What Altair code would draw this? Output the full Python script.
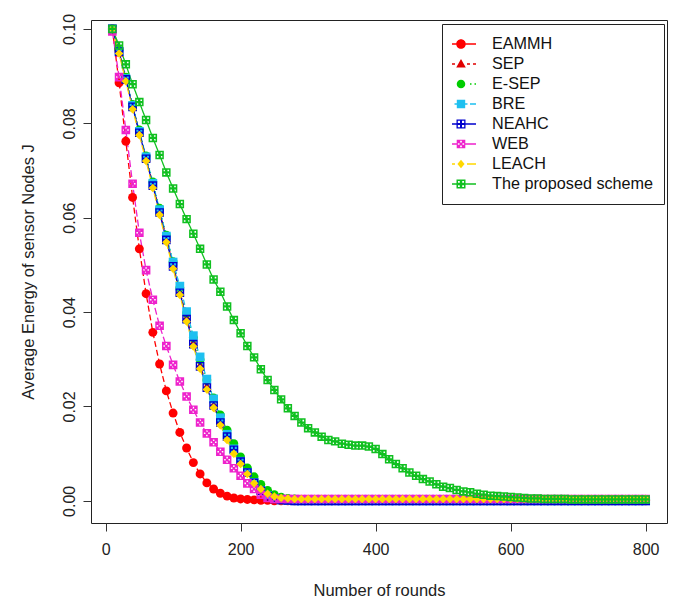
import altair as alt
import pandas as pd

FONT = "Liberation Sans"

ROUNDS = list(range(10, 801, 10))

SERIES = ["EAMMH", "SEP", "E-SEP", "BRE", "NEAHC", "WEB", "LEACH", "The proposed scheme"]
COLORS = ["#ff0000", "#e00000", "#00cd00", "#1ec0f0", "#0000cd", "#ee22cc", "#ffd700", "#10c020"]

EAMMH = [0.1000, 0.0886, 0.0762, 0.0643, 0.0534, 0.0439, 0.0357, 0.0290, 0.0233, 0.0186,
         0.0145, 0.0112, 0.0081, 0.0057, 0.0038, 0.0025, 0.0016, 0.0010, 0.0006, 0.0004,
         0.0003, 0.0002, 0.0001, 0.0001, 0.0, 0.0, 0.0, 0.0, 0.0, 0.0,
         0.0, 0.0, 0.0, 0.0, 0.0, 0.0, 0.0, 0.0, 0.0, 0.0,
         0.0, 0.0, 0.0, 0.0, 0.0, 0.0, 0.0, 0.0, 0.0, 0.0,
         0.0, 0.0, 0.0, 0.0, 0.0, 0.0, 0.0, 0.0, 0.0, 0.0,
         0.0, 0.0, 0.0, 0.0, 0.0, 0.0, 0.0, 0.0, 0.0, 0.0,
         0.0, 0.0, 0.0, 0.0, 0.0, 0.0, 0.0, 0.0, 0.0, 0.0]

SEP = [0.1000, 0.0950, 0.0892, 0.0836, 0.0781, 0.0727, 0.0671, 0.0614, 0.0557, 0.0500,
       0.0444, 0.0389, 0.0336, 0.0288, 0.0244, 0.0205, 0.0170, 0.0139, 0.0111, 0.0086,
       0.0064, 0.0045, 0.0030, 0.0019, 0.0012, 0.0008, 0.0006, 0.0005, 0.0005, 0.0005,
       0.0005, 0.0005, 0.0005, 0.0005, 0.0005, 0.0005, 0.0005, 0.0005, 0.0005, 0.0005,
       0.0005, 0.0005, 0.0005, 0.0005, 0.0005, 0.0005, 0.0005, 0.0005, 0.0005, 0.0005,
       0.0005, 0.0005, 0.0005, 0.0005, 0.0005, 0.0005, 0.0005, 0.0005, 0.0005, 0.0005,
       0.0005, 0.0005, 0.0005, 0.0005, 0.0005, 0.0005, 0.0005, 0.0005, 0.0005, 0.0005,
       0.0005, 0.0005, 0.0005, 0.0005, 0.0005, 0.0005, 0.0005, 0.0005, 0.0005, 0.0005]

ESEP = [0.1000, 0.0955, 0.0898, 0.0840, 0.0786, 0.0731, 0.0676, 0.0620, 0.0563, 0.0507,
        0.0452, 0.0398, 0.0346, 0.0299, 0.0256, 0.0218, 0.0182, 0.0150, 0.0121, 0.0093,
        0.0070, 0.0051, 0.0035, 0.0022, 0.0013, 0.0008, 0.0005, 0.0004, 0.0003, 0.0003,
        0.0003, 0.0003, 0.0003, 0.0003, 0.0003, 0.0003, 0.0003, 0.0003, 0.0003, 0.0003,
        0.0003, 0.0003, 0.0003, 0.0003, 0.0003, 0.0003, 0.0003, 0.0003, 0.0003, 0.0003,
        0.0003, 0.0003, 0.0003, 0.0003, 0.0003, 0.0003, 0.0003, 0.0003, 0.0003, 0.0003,
        0.0003, 0.0003, 0.0003, 0.0003, 0.0003, 0.0003, 0.0003, 0.0003, 0.0003, 0.0003,
        0.0003, 0.0003, 0.0003, 0.0003, 0.0003, 0.0003, 0.0003, 0.0003, 0.0003, 0.0003]

BRE = [0.1000, 0.0953, 0.0895, 0.0838, 0.0783, 0.0729, 0.0673, 0.0617, 0.0561, 0.0506,
       0.0455, 0.0401, 0.0350, 0.0305, 0.0258, 0.0216, 0.0176, 0.0141, 0.0110, 0.0084,
       0.0060, 0.0039, 0.0022, 0.0011, 0.0005, 0.0002, 0.0001, 0.0, 0.0, 0.0,
       0.0, 0.0, 0.0, 0.0, 0.0, 0.0, 0.0, 0.0, 0.0, 0.0,
       0.0, 0.0, 0.0, 0.0, 0.0, 0.0, 0.0, 0.0, 0.0, 0.0,
       0.0, 0.0, 0.0, 0.0, 0.0, 0.0, 0.0, 0.0, 0.0, 0.0,
       0.0, 0.0, 0.0, 0.0, 0.0, 0.0, 0.0, 0.0, 0.0, 0.0,
       0.0, 0.0, 0.0, 0.0, 0.0, 0.0, 0.0, 0.0, 0.0, 0.0]

NEAHC = [0.1000, 0.0952, 0.0893, 0.0835, 0.0780, 0.0725, 0.0668, 0.0611, 0.0553, 0.0497,
         0.0441, 0.0385, 0.0332, 0.0285, 0.0240, 0.0202, 0.0166, 0.0136, 0.0108, 0.0083,
         0.0060, 0.0038, 0.0021, 0.0010, 0.0004, 0.0002, 0.0001, 0.0, 0.0, 0.0,
         0.0, 0.0, 0.0, 0.0, 0.0, 0.0, 0.0, 0.0, 0.0, 0.0,
         0.0, 0.0, 0.0, 0.0, 0.0, 0.0, 0.0, 0.0, 0.0, 0.0,
         0.0, 0.0, 0.0, 0.0, 0.0, 0.0, 0.0, 0.0, 0.0, 0.0,
         0.0, 0.0, 0.0, 0.0, 0.0, 0.0, 0.0, 0.0, 0.0, 0.0,
         0.0, 0.0, 0.0, 0.0, 0.0, 0.0, 0.0, 0.0, 0.0, 0.0]

WEB = [0.0995, 0.0898, 0.0786, 0.0672, 0.0568, 0.0489, 0.0426, 0.0371, 0.0328, 0.0288,
       0.0253, 0.0221, 0.0193, 0.0166, 0.0143, 0.0124, 0.0104, 0.0087, 0.0069, 0.0053,
       0.0037, 0.0025, 0.0013, 0.0006, 0.0004, 0.0004, 0.0004, 0.0004, 0.0004, 0.0004,
       0.0004, 0.0004, 0.0004, 0.0004, 0.0004, 0.0004, 0.0004, 0.0004, 0.0004, 0.0004,
       0.0004, 0.0004, 0.0004, 0.0004, 0.0004, 0.0004, 0.0004, 0.0004, 0.0004, 0.0004,
       0.0004, 0.0004, 0.0004, 0.0004, 0.0004, 0.0004, 0.0004, 0.0004, 0.0004, 0.0004,
       0.0004, 0.0004, 0.0004, 0.0004, 0.0004, 0.0004, 0.0004, 0.0004, 0.0004, 0.0004,
       0.0004, 0.0004, 0.0004, 0.0004, 0.0004, 0.0004, 0.0004, 0.0004, 0.0004, 0.0004]

LEACH = [0.1000, 0.0948, 0.0889, 0.0830, 0.0775, 0.0720, 0.0663, 0.0606, 0.0548, 0.0492,
         0.0436, 0.0380, 0.0327, 0.0280, 0.0236, 0.0197, 0.0160, 0.0129, 0.0100, 0.0078,
         0.0057, 0.0037, 0.0025, 0.0015, 0.0009, 0.0006, 0.0005, 0.0004, 0.0004, 0.0004,
         0.0004, 0.0004, 0.0004, 0.0004, 0.0004, 0.0004, 0.0004, 0.0004, 0.0004, 0.0004,
         0.0004, 0.0004, 0.0004, 0.0004, 0.0004, 0.0004, 0.0004, 0.0004, 0.0004, 0.0004,
         0.0004, 0.0004, 0.0004, 0.0004, 0.0004, 0.0004, 0.0004, 0.0004, 0.0004, 0.0004,
         0.0004, 0.0004, 0.0004, 0.0004, 0.0004, 0.0004, 0.0004, 0.0004, 0.0004, 0.0004,
         0.0004, 0.0004, 0.0004, 0.0004, 0.0004, 0.0004, 0.0004, 0.0004, 0.0004, 0.0004]

PROPOSED = [0.1000, 0.0965, 0.0925, 0.0883, 0.0845, 0.0807, 0.0769, 0.0733, 0.0696, 0.0662,
            0.0629, 0.0597, 0.0566, 0.0534, 0.0501, 0.0469, 0.0443, 0.0412, 0.0383, 0.0355,
            0.0328, 0.0304, 0.0279, 0.0256, 0.0235, 0.0215, 0.0196, 0.0180, 0.0166, 0.0154,
            0.0145, 0.0136, 0.0129, 0.0126, 0.0121, 0.0119, 0.0117, 0.0117, 0.0115, 0.0110,
            0.0099, 0.0088, 0.0078, 0.0069, 0.0060, 0.0053, 0.0046, 0.0041, 0.0035, 0.0030,
            0.0027, 0.0023, 0.0020, 0.0018, 0.0015, 0.0013, 0.0011, 0.0010, 0.0009, 0.0008,
            0.0007, 0.0006, 0.0005, 0.0005, 0.0004, 0.0004, 0.0004, 0.0004, 0.0003, 0.0003,
            0.0003, 0.0003, 0.0003, 0.0003, 0.0003, 0.0003, 0.0003, 0.0003, 0.0003, 0.0003]

VALUES = [EAMMH, SEP, ESEP, BRE, NEAHC, WEB, LEACH, PROPOSED]

X_TICKS = [0, 200, 400, 600, 800]
Y_TICKS = [0.0, 0.02, 0.04, 0.06, 0.08, 0.10]


# ---------- symbol paths (styling) ----------
def rect(x0, x1, y0, y1, k=1.0, dx=0.0):
    x0, x1 = x0 + dx, x1 + dx
    return f"M{x0/k:.4f},{y0/k:.4f}H{x1/k:.4f}V{y1/k:.4f}H{x0/k:.4f}Z"


def hole(cx, cy, h, k=1.0, dx=0.0):
    cx = cx + dx
    return (f"M{(cx-h)/k:.4f},{(cy-h)/k:.4f}V{(cy+h)/k:.4f}"
            f"H{(cx+h)/k:.4f}V{(cy-h)/k:.4f}Z")


def circ(r, k=1.0, dx=0.0):
    a, b, r = (-r + dx) / k, (r + dx) / k, r / k
    return f"M{a:.4f},0A{r:.4f},{r:.4f} 0 1,1 {b:.4f},0A{r:.4f},{r:.4f} 0 1,1 {a:.4f},0Z"


def poly(pts, k=1.0, dx=0.0):
    s = "M" + "L".join(f"{(x+dx)/k:.4f},{y/k:.4f}" for x, y in pts)
    return s + "Z"


# plot markers, unit square [-1, 1]
SQ = rect(-1, 1, -1, 1)
SQPLUS_N = SQ + "".join(hole(cx, cy, 0.24) for cx in (-0.45, 0.45) for cy in (-0.45, 0.45))
SQPLUS_P = SQ + "".join(hole(cx, cy, 0.19) for cx in (-0.45, 0.45) for cy in (-0.45, 0.45))
SQX = SQ + "".join(hole(cx, cy, 0.18) for cx, cy in ((0, -0.5), (0, 0.5), (-0.5, 0), (0.5, 0)))
PLOT_SHAPES = ["circle", "triangle-up", "circle", "square", SQPLUS_N, SQX, "diamond", SQPLUS_P]
PLOT_SIZES = [80, 72, 56, 64, 72, 58, 46, 64]
DASHES = [[6, 3], [3, 3], [1, 3], [5, 3], [1, 0], [7, 3], [7, 3], [1, 0]]

# legend symbols: drawn in px, 15 px per unit (symbol size 900), shifted left
K = 15.0
LT = 0.8
DX = -6.0


def segs(ranges):
    return "".join(rect(a, b, -LT, LT, K, DX) for a, b in ranges)


LEG_SHAPES = [
    segs([(-15, -4.8), (4.8, 15)]) + circ(4.8, K, DX),
    segs([(-15, -12), (-9, -6), (6, 9), (12, 15)]) + poly([(0, -5), (4.8, 3.6), (-4.8, 3.6)], K, DX),
    segs([(-15, -13.5), (-10.5, -9), (9, 10.5), (13.5, 15)]) + circ(4.3, K, DX),
    segs([(-15, -9), (-6.5, -4.2), (4.2, 6.5), (9, 15)]) + rect(-4.2, 4.2, -4.2, 4.2, K, DX),
    segs([(-15, -4.5), (4.5, 15)]) + rect(-4.5, 4.5, -4.5, 4.5, K, DX)
    + "".join(hole(cx, cy, 1.1, K, DX) for cx in (-2.1, 2.1) for cy in (-2.1, 2.1)),
    segs([(-15, -4.3), (4.3, 15)]) + rect(-4.3, 4.3, -4.3, 4.3, K, DX)
    + "".join(hole(cx, cy, 0.85, K, DX) for cx, cy in ((0, -2.3), (0, 2.3), (-2.3, 0), (2.3, 0))),
    segs([(-15, -6), (6, 15)]) + poly([(0, -4.2), (3.6, 0), (0, 4.2), (-3.6, 0)], K, DX),
    segs([(-15, -4.5), (4.5, 15)]) + rect(-4.5, 4.5, -4.5, 4.5, K, DX)
    + "".join(hole(cx, cy, 0.9, K, DX) for cx in (-2.1, 2.1) for cy in (-2.1, 2.1)),
]

# ---------- data table ----------
rows = []
for k, (name, vals) in enumerate(zip(SERIES, VALUES)):
    for r, v in zip(ROUNDS, vals):
        rows.append({"rounds": r, "energy": v, "series": name, "k": k})
df = pd.DataFrame(rows)

# ---------- layout ----------
LEFT, TOP = 91, 20
W, H = 576, 503

x_enc = alt.X(
    "rounds:Q",
    scale=alt.Scale(domain=[-21.6, 831.6], nice=False, zero=False),
    axis=alt.Axis(
        values=X_TICKS, format="d", grid=False, domain=False,
        tickSize=8, tickColor="#333", tickWidth=1,
        labelFont=FONT, labelFontSize=16, labelColor="#222", labelPadding=10,
        labelFlush=False,
        title="Number of rounds", titleFont=FONT, titleFontSize=16.5,
        titleFontWeight="normal", titleColor="#222",
        titleY=67, titleBaseline="middle",
    ),
)
y_enc = alt.Y(
    "energy:Q",
    scale=alt.Scale(domain=[-0.0047, 0.1019], nice=False, zero=False),
    axis=alt.Axis(
        values=Y_TICKS, format=".2f", grid=False, domain=False,
        tickSize=8, tickColor="#333", tickWidth=1,
        labelFont=FONT, labelFontSize=16, labelColor="#222", labelPadding=6,
        labelAngle=-90, labelAlign="center", labelBaseline="bottom",
        labelFlush=False,
        title="Average Energy of sensor Nodes J", titleFont=FONT, titleFontSize=16.5,
        titleFontWeight="normal", titleColor="#222",
        titleX=-63, titleBaseline="middle",
    ),
)

base = alt.Chart(df).encode(x=x_enc, y=y_enc)

lines = base.mark_line(strokeWidth=1.3).encode(
    color=alt.Color("series:N", scale=alt.Scale(domain=SERIES, range=COLORS), legend=None),
    strokeDash=alt.StrokeDash("series:N", scale=alt.Scale(domain=SERIES, range=DASHES), legend=None),
    detail="series:N",
)

points = base.mark_point(filled=True, opacity=1, strokeWidth=0).encode(
    color=alt.Color("series:N", scale=alt.Scale(domain=SERIES, range=COLORS), legend=None),
    shape=alt.Shape("series:N", scale=alt.Scale(domain=SERIES, range=PLOT_SHAPES), legend=None),
    size=alt.Size("series:N", scale=alt.Scale(domain=SERIES, range=PLOT_SIZES), legend=None),
    order=alt.Order("k:Q"),
)

legend_spec = dict(
    title=None, orient="none", legendX=442 - LEFT, legendY=24 - TOP,
    padding=10, strokeColor="#222", fillColor="white",
    symbolSize=900, symbolStrokeWidth=0, symbolOpacity=1,
    labelFont=FONT, labelFontSize=16.2, labelColor="#111",
    labelOffset=10, labelLimit=400, rowPadding=0, clipHeight=20,
)

legend_layer = base.mark_point(filled=True, opacity=0, size=900).encode(
    color=alt.Color("series:N", scale=alt.Scale(domain=SERIES, range=COLORS),
                    legend=alt.Legend(**legend_spec)),
    shape=alt.Shape("series:N", scale=alt.Scale(domain=SERIES, range=LEG_SHAPES),
                    legend=alt.Legend(**legend_spec)),
)

chart = (
    alt.layer(lines, points, legend_layer)
    .resolve_scale(color="independent", shape="independent")
    .properties(
        width=W, height=H,
        padding={"left": LEFT - 8, "top": TOP - 8, "right": 1, "bottom": 82},
        autosize=alt.AutoSizeParams(type="none"),
        background="white",
    )
    .configure_view(stroke="#222", strokeWidth=1)
)

chart.save("out.html", embed_options={"renderer": "svg", "actions": False})
